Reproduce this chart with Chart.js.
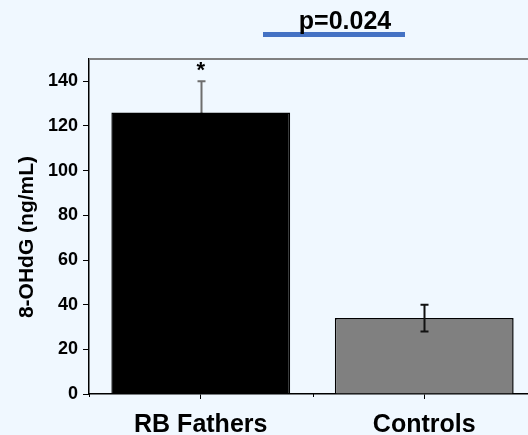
<!DOCTYPE html>
<html>
<head>
<meta charset="utf-8">
<script src="https://cdn.jsdelivr.net/npm/chart.js@4"></script>
<style>
  html, body { margin: 0; padding: 0; background: #f0f8ff; overflow: hidden; }
  #wrap { width: 540px; height: 435px; }
</style>
</head>
<body>
<div id="wrap"><canvas id="myChart" width="540" height="435"></canvas></div>
<script>
const groups = ["RB Fathers", "Controls"];
const means = [126, 34];
const sds = [14, 6];
const barColors = ["#000000", "#808080"];
const errColors = ["#6e6e6e", "#111111"];
const lowerColors = ["#000000", "#111111"];
const yTitle = "8-OHdG (ng/mL)";
const pText = "p=0.024";

const FONT = "'Liberation Sans', Arial, sans-serif";

// error bars, asterisk, p value, top frame, minor ticks, y title
const extras = {
  id: "extras",
  afterDatasetsDraw(chart) {
    const ctx = chart.ctx;
    const x = chart.scales.x;
    const y = chart.scales.y;
    const area = chart.chartArea;
    ctx.save();

    // top frame line
    ctx.strokeStyle = "#808080";
    ctx.lineWidth = 2;
    ctx.beginPath();
    ctx.moveTo(area.left, area.top);
    ctx.lineTo(area.right, area.top);
    ctx.stroke();

    // minor y ticks
    ctx.strokeStyle = "#000";
    ctx.lineWidth = 1;
    y.ticks.forEach((t) => {
      if (t.value % 20 !== 0) {
        const py = Math.round(y.getPixelForValue(t.value)) + 0.5;
        ctx.beginPath();
        ctx.moveTo(area.left - 3, py);
        ctx.lineTo(area.left, py);
        ctx.stroke();
      }
    });

    // minor x ticks between categories
    for (let i = 0; i <= groups.length; i++) {
      const px = Math.round(x.getPixelForValue(i - 0.5)) + 0.5;
      ctx.beginPath();
      ctx.moveTo(px, area.bottom);
      ctx.lineTo(px, area.bottom + 3);
      ctx.stroke();
    }

    // error bars
    means.forEach((m, i) => {
      const px = Math.round(x.getPixelForValue(i)) + 0.5;
      const py = y.getPixelForValue(m);
      const top = y.getPixelForValue(m + sds[i]);
      const bot = y.getPixelForValue(m - sds[i]);
      ctx.lineWidth = 2;
      ctx.strokeStyle = errColors[i];
      ctx.beginPath();
      ctx.moveTo(px, py);
      ctx.lineTo(px, top);
      ctx.moveTo(px - 4, top);
      ctx.lineTo(px + 4, top);
      ctx.stroke();
      ctx.strokeStyle = lowerColors[i];
      ctx.beginPath();
      ctx.moveTo(px, py);
      ctx.lineTo(px, bot);
      ctx.moveTo(px - 4, bot);
      ctx.lineTo(px + 4, bot);
      ctx.stroke();
    });

    // asterisk over first bar
    ctx.fillStyle = "#000";
    ctx.font = "bold 22px " + FONT;
    ctx.textAlign = "center";
    ctx.textBaseline = "alphabetic";
    ctx.fillText("*", x.getPixelForValue(0), y.getPixelForValue(means[0] + sds[0]) - 4);

    // p value with blue bar
    ctx.fillStyle = "#4472c4";
    ctx.fillRect(263, 32, 142, 5);
    ctx.fillStyle = "#000";
    ctx.font = "bold 25px " + FONT;
    ctx.fillText(pText, 345, 29);

    // y axis title
    ctx.save();
    ctx.translate(27, 237);
    ctx.rotate(-Math.PI / 2);
    ctx.font = "bold 21px " + FONT;
    ctx.textBaseline = "middle";
    ctx.fillText(yTitle, 0, 0);
    ctx.restore();

    ctx.restore();
  },
};

const config = {
  type: "bar",
  data: {
    labels: groups,
    datasets: [
      {
        data: means,
        backgroundColor: barColors,
        borderColor: "#000",
        borderWidth: 1.5,
        barPercentage: 0.8,
        categoryPercentage: 1,
      },
    ],
  },
  options: {
    responsive: false,
    animation: false,
    layout: { padding: { left: 0, right: 4, top: 59, bottom: 0 } },
    plugins: { legend: { display: false }, tooltip: { enabled: false } },
    scales: {
      x: {
        afterFit: (s) => { s.height = 41; },
        grid: { drawOnChartArea: false, offset: false, tickLength: 5, color: "#000" },
        border: { color: "#000", width: 1.5 },
        ticks: { color: "#000", font: { family: FONT, size: 25, weight: "bold" }, padding: 11 },
      },
      y: {
        min: 0,
        max: 150,
        afterFit: (s) => { s.width = 89; },
        grid: {
          drawOnChartArea: false,
          tickLength: 6,
          color: (c) => (c.tick && c.tick.value % 20 === 0 ? "#000" : "rgba(0,0,0,0)"),
        },
        border: { color: "#000", width: 1.5 },
        ticks: {
          stepSize: 10,
          color: "#000",
          padding: 5,
          font: { family: FONT, size: 18, weight: "bold" },
          callback: (v) => (v % 20 === 0 && v < 150 ? v : ""),
        },
      },
    },
  },
  plugins: [extras],
};

const myChart = new Chart(document.getElementById("myChart"), config);
</script>
</body>
</html>
